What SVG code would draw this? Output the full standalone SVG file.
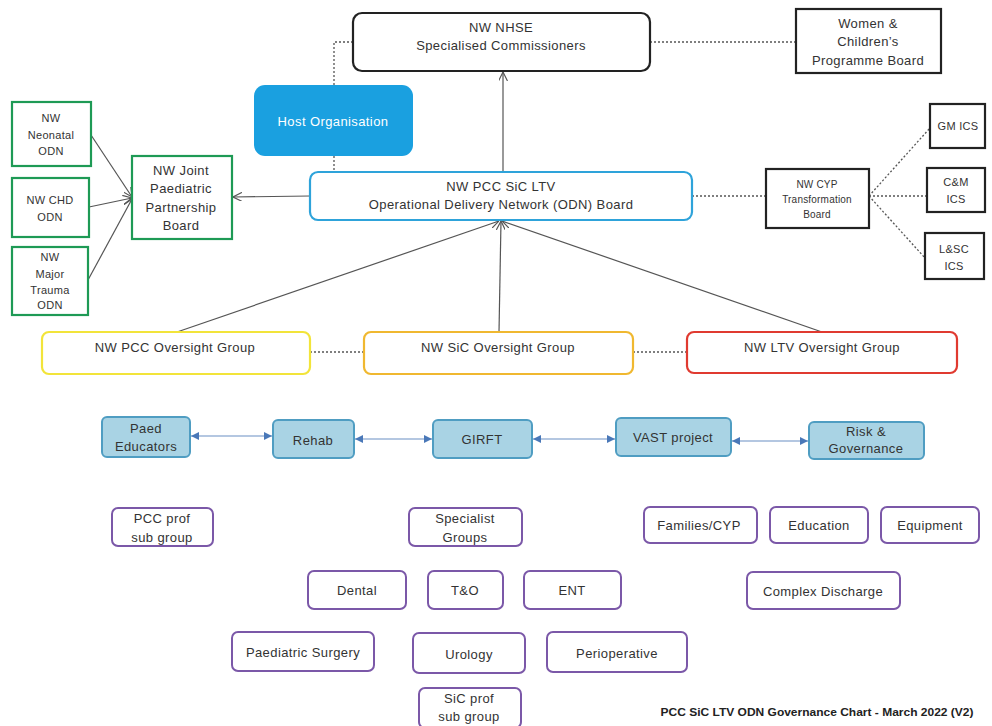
<svg xmlns="http://www.w3.org/2000/svg" width="992" height="726" viewBox="0 0 992 726">
<style>
text{font-family:"Liberation Sans",Arial,sans-serif;font-size:13px;letter-spacing:0.4px;fill:#333;text-anchor:middle;dominant-baseline:central}
.sm{font-size:11px;letter-spacing:0.3px}
.xs{font-size:10px;letter-spacing:0.2px}
.box{fill:#fff;stroke:#222;stroke-width:2.2}
.grn{fill:#fff;stroke:#1e9a55;stroke-width:2.2}
.pur{fill:#fff;stroke:#7b58a8;stroke-width:2}
.blu{fill:#a9d3e4;stroke:#4f9dc2;stroke-width:2}
.dot{fill:none;stroke:#555;stroke-width:1.3;stroke-dasharray:2 2}
.ln{fill:none;stroke:#555;stroke-width:1.2}
.dbl{fill:none;stroke:#6b8fc4;stroke-width:1.2;marker-start:url(#bs);marker-end:url(#be)}
</style>
<defs>
<marker id="oa" viewBox="0 0 10 10" refX="10" refY="5" markerWidth="9" markerHeight="9" orient="auto" markerUnits="userSpaceOnUse">
<path d="M0,0 L10,5 L0,10" fill="none" stroke="#555" stroke-width="1.3"/>
</marker>
<marker id="be" viewBox="0 0 10 10" refX="10" refY="5" markerWidth="8" markerHeight="8" orient="auto" markerUnits="userSpaceOnUse">
<path d="M0,0 L10,5 L0,10 z" fill="#4a78b8"/>
</marker>
<marker id="bs" viewBox="0 0 10 10" refX="0" refY="5" markerWidth="8" markerHeight="8" orient="auto" markerUnits="userSpaceOnUse">
<path d="M10,0 L0,5 L10,10 z" fill="#4a78b8"/>
</marker>
</defs>
<rect width="992" height="726" fill="#fff"/>

<g id="connectors">
<polyline class="dot" points="353,42 334,42 334,85"/>
<line class="dot" x1="334" y1="156" x2="334" y2="172"/>
<line class="dot" x1="650" y1="42" x2="796" y2="42"/>
<line class="ln" x1="503" y1="172" x2="503" y2="72" marker-end="url(#oa)"/>
<line class="ln" x1="310" y1="196" x2="233" y2="197" marker-end="url(#oa)"/>
<line class="ln" x1="91" y1="135" x2="132" y2="197" marker-end="url(#oa)"/>
<line class="ln" x1="89" y1="207" x2="132" y2="198" marker-end="url(#oa)"/>
<line class="ln" x1="88" y1="280" x2="132" y2="199" marker-end="url(#oa)"/>
<line class="dot" x1="692" y1="196" x2="766" y2="196"/>
<line class="dot" x1="869" y1="196" x2="930" y2="128"/>
<line class="dot" x1="869" y1="196" x2="927" y2="196"/>
<line class="dot" x1="869" y1="196" x2="925" y2="258"/>
<line class="ln" x1="177" y1="332" x2="499" y2="221" marker-end="url(#oa)"/>
<line class="ln" x1="499" y1="332" x2="501" y2="221" marker-end="url(#oa)"/>
<line class="ln" x1="822" y1="332" x2="502" y2="221" marker-end="url(#oa)"/>
<line class="dot" x1="310" y1="352" x2="364" y2="352"/>
<line class="dot" x1="633" y1="352" x2="687" y2="352"/>
<line class="dbl" x1="191" y1="436" x2="272" y2="436"/>
<line class="dbl" x1="355" y1="439" x2="432" y2="439"/>
<line class="dbl" x1="533" y1="439" x2="615" y2="439"/>
<line class="dbl" x1="732" y1="441" x2="808" y2="441"/>
</g>

<g id="nhse"><rect class="box" x="353" y="13" width="297" height="58" rx="9"/><text x="501" y="27">NW NHSE</text><text x="501" y="45">Specialised Commissioners</text></g>
<g id="womens"><rect class="box" x="796" y="9" width="145" height="64"/><text x="868" y="23">Women &amp;</text><text x="868" y="41">Children’s</text><text x="868" y="60">Programme  Board</text></g>
<g id="host"><rect x="254" y="85" width="159" height="71" rx="11" fill="#1aa0e0"/><text x="333" y="121" style="fill:#fff">Host Organisation</text></g>
<g id="odn"><rect x="310" y="172" width="382" height="48" rx="8" fill="#fff" stroke="#2ea3da" stroke-width="2.2"/><text x="501" y="186">NW PCC SiC LTV</text><text x="501" y="204">Operational Delivery Network (ODN) Board</text></g>
<g id="joint"><rect class="grn" x="132" y="156" width="100" height="83"/><text x="181" y="170">NW Joint</text><text x="181" y="188">Paediatric</text><text x="181" y="207">Partnership</text><text x="181" y="225">Board</text></g>
<g id="neonatal"><rect class="grn" x="12" y="102" width="79" height="64"/><text class="sm" x="51" y="118">NW</text><text class="sm" x="51" y="135">Neonatal</text><text class="sm" x="51" y="151">ODN</text></g>
<g id="chd"><rect class="grn" x="12" y="178" width="77" height="59"/><text class="sm" x="50" y="200">NW CHD</text><text class="sm" x="50" y="217">ODN</text></g>
<g id="trauma"><rect class="grn" x="12" y="247" width="76" height="68"/><text class="sm" x="50" y="257">NW</text><text class="sm" x="50" y="274">Major</text><text class="sm" x="50" y="290">Trauma</text><text class="sm" x="50" y="305">ODN</text></g>
<g id="cyp"><rect class="box" x="766" y="169" width="103" height="59"/><text class="xs" x="817" y="184">NW CYP</text><text class="xs" x="817" y="199">Transformation</text><text class="xs" x="817" y="214">Board</text></g>
<g id="gm"><rect class="box" x="930" y="104" width="55" height="44"/><text class="sm" x="958" y="126">GM ICS</text></g>
<g id="cm"><rect class="box" x="927" y="168" width="58" height="44"/><text class="sm" x="956" y="182">C&amp;M</text><text class="sm" x="956" y="199">ICS</text></g>
<g id="lsc"><rect class="box" x="925" y="233" width="59" height="46"/><text class="sm" x="954" y="249">L&amp;SC</text><text class="sm" x="954" y="266">ICS</text></g>

<g id="pcc-oversight"><rect x="42" y="332" width="268" height="42" rx="7" fill="#fff" stroke="#f2e43a" stroke-width="2.2"/><text x="175" y="347">NW PCC Oversight  Group</text></g>
<g id="sic-oversight"><rect x="364" y="332" width="269" height="42" rx="7" fill="#fff" stroke="#f0b830" stroke-width="2.2"/><text x="498" y="347">NW SiC Oversight Group</text></g>
<g id="ltv-oversight"><rect x="687" y="332" width="270" height="41" rx="7" fill="#fff" stroke="#e03a30" stroke-width="2.2"/><text x="822" y="347">NW LTV Oversight Group</text></g>

<g id="paed-educators"><rect class="blu" x="102" y="417" width="88" height="40" rx="5"/><text x="146" y="428">Paed</text><text x="146" y="446">Educators</text></g>
<g id="rehab"><rect class="blu" x="273" y="420" width="81" height="38" rx="5"/><text x="313" y="440">Rehab</text></g>
<g id="girft"><rect class="blu" x="433" y="420" width="99" height="38" rx="5"/><text x="482" y="439">GIRFT</text></g>
<g id="vast"><rect class="blu" x="616" y="418" width="115" height="38" rx="5"/><text x="673" y="437">VAST project</text></g>
<g id="risk"><rect class="blu" x="809" y="422" width="115" height="37" rx="5"/><text x="866" y="431">Risk &amp;</text><text x="866" y="448">Governance</text></g>

<g id="pcc-prof"><rect class="pur" x="112" y="508" width="101" height="38" rx="6"/><text x="162" y="518">PCC prof</text><text x="162" y="537">sub group</text></g>
<g id="specialist"><rect class="pur" x="409" y="508" width="113" height="38" rx="6"/><text x="465" y="518">Specialist</text><text x="465" y="537">Groups</text></g>
<g id="families"><rect class="pur" x="644" y="507" width="113" height="36" rx="6"/><text x="699" y="525">Families/CYP</text></g>
<g id="education"><rect class="pur" x="770" y="507" width="98" height="36" rx="6"/><text x="819" y="525">Education</text></g>
<g id="equipment"><rect class="pur" x="881" y="507" width="98" height="36" rx="6"/><text x="930" y="525">Equipment</text></g>
<g id="dental"><rect class="pur" x="308" y="571" width="98" height="38" rx="6"/><text x="357" y="590">Dental</text></g>
<g id="tando"><rect class="pur" x="428" y="571" width="75" height="38" rx="6"/><text x="465" y="590">T&amp;O</text></g>
<g id="ent"><rect class="pur" x="524" y="571" width="97" height="38" rx="6"/><text x="572" y="590">ENT</text></g>
<g id="complex"><rect class="pur" x="747" y="572" width="153" height="37" rx="6"/><text x="823" y="591">Complex Discharge</text></g>
<g id="paed-surgery"><rect class="pur" x="232" y="632" width="142" height="39" rx="6"/><text x="303" y="652">Paediatric Surgery</text></g>
<g id="urology"><rect class="pur" x="413" y="633" width="112" height="40" rx="6"/><text x="469" y="654">Urology</text></g>
<g id="perioperative"><rect class="pur" x="547" y="632" width="140" height="40" rx="6"/><text x="617" y="653">Perioperative</text></g>
<g id="sic-prof"><rect class="pur" x="419" y="688" width="102" height="40" rx="6"/><text x="469" y="698">SiC prof</text><text x="469" y="716">sub group</text></g>

<text x="817" y="712" style="font-size:11px;letter-spacing:0;font-weight:bold;fill:#222" textLength="313" lengthAdjust="spacingAndGlyphs">PCC SiC LTV ODN Governance Chart - March 2022 (V2)</text>
</svg>
